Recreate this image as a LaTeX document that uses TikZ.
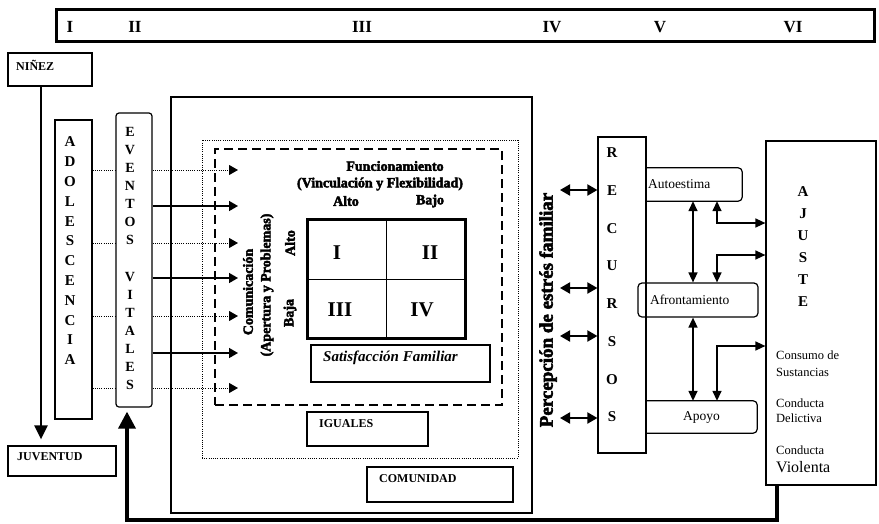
\documentclass[tikz,border=0pt]{standalone}
\usepackage{fontspec}
\setmainfont{Liberation Serif}
\newfontface\heavy[FakeBold=3]{Liberation Serif Bold}
\usetikzlibrary{arrows.meta,positioning,calc}

\begin{document}
\begin{tikzpicture}[x=1pt, y=-1pt,
    box/.style={draw, line width=1.2pt, inner sep=0pt},
    tag/.style={anchor=west, inner sep=0pt, font=\fontsize{12}{12}\selectfont\bfseries},
    numeral/.style={inner sep=0pt, font=\fontsize{17}{17}\selectfont\bfseries},
    letter/.style={inner sep=0pt, font=\fontsize{15}{15}\selectfont\bfseries},
    cell/.style={inner sep=0pt, font=\fontsize{21}{21}\selectfont\bfseries},
    squat/.style={inner sep=0pt, font=\heavy\fontsize{14}{14}\selectfont},
    part/.style={inner sep=0pt, font=\fontsize{13.5}{13.5}\selectfont},
    outcome/.style={anchor=west, inner sep=0pt, font=\fontsize{12.5}{12.5}\selectfont},
    event/.style={-{Triangle[length=9pt, width=10pt]}, line width=1.5pt},
    hint/.style={line width=1pt, dash pattern=on 1pt off 1.2pt},
    hintarrow/.style={hint, -{Triangle[length=9pt, width=10pt]}},
    stress/.style={{Triangle[length=10pt, width=11pt]}-{Triangle[length=10pt, width=11pt]}, line width=2pt},
    twoway/.style={{Triangle[length=10pt, width=9pt]}-{Triangle[length=10pt, width=9pt]}, line width=1.5pt},
    soft/.style={line width=1.2pt, rounded corners=4pt},
  ]
\useasboundingbox (0,0) rectangle (879,523);

% --- Stages bar ---------------------------------------------------------------
\node[draw, line width=3pt, minimum width=818, minimum height=32, inner sep=0pt] (stages) at (465.5,25.5) {};
\foreach \num/\x in {I/70, II/135, III/362, IV/552, V/660, VI/793}
  \node[numeral] (st\num) at (\x,27) {\num};

% --- From childhood to youth --------------------------------------------------
\node[box, minimum width=84, minimum height=33] (ninez) at (50,69.5) {};
\node[tag] (ninezlbl) at (16,65) {NIÑEZ};
\node[box, minimum width=108, minimum height=30] (juventud) at (62,461) {};
\node[tag] (juventudlbl) at (17,457) {JUVENTUD};
\coordinate (lifeline) at (41,0);
\draw[line width=2.5pt, -{Triangle[length=14pt, width=13pt]}, shorten >=6pt] (ninez.south -| lifeline) -- (juventud.north -| lifeline);

\node[box, minimum width=37, minimum height=299] (adol) at (73.5,269.5) {};
\foreach \l [count=\i] in {A,D,O,L,E,S,C,E,N,C,I,A}
  \node[letter] at (70,{142+19.8*(\i-1)}) {\l};

\node[box, rounded corners=3pt, minimum width=36, minimum height=294] (eventos) at (134,260) {};
\foreach \l [count=\i] in {E,V,E,N,T,O,S,,V,I,T,A,L,E,S}
  \node[letter, font=\fontsize{14}{14}\selectfont\bfseries] at (130,{132+18.07*(\i-1)}) {\l};

% --- Contexts: community, peers, family ---------------------------------------
\node[box, minimum width=361, minimum height=416] (comunidad) at (351.5,305) {};
\node[draw, line width=1pt, dash pattern=on 1pt off 1.2pt, minimum width=316, minimum height=318, inner sep=0pt] (iguales) at (360,299) {};
\node[draw, line width=2.5pt, dash pattern=on 9pt off 5pt, minimum width=287, minimum height=256, inner sep=0pt] (familia) at (358.5,277) {};

\node[box, minimum width=121, minimum height=34] (igualesbox) at (367.5,429) {};
\node[tag] (igualeslbl) at (319,424) {IGUALES};
\node[box, minimum width=146, minimum height=35] (comunbox) at (440,484.5) {};
\node[tag] (comunlbl) at (379,479) {COMUNIDAD};

\node[box, minimum width=179, minimum height=37] (satisf) at (400.5,363.5) {};
\node[anchor=west, inner sep=0pt, font=\fontsize{15}{15}\selectfont\bfseries\itshape] (satisflbl) at (323,358) {Satisfacción Familiar};

% --- Family typology grid -----------------------------------------------------
\node[draw, line width=3pt, minimum width=158, minimum height=119, inner sep=0pt] (grid) at (386.5,279) {};
\draw[line width=1pt] (grid.north) -- (grid.south);
\draw[line width=1pt] (grid.west) -- (grid.east);
\foreach \q/\x/\y in {I/337/253, II/430/253, III/340/310, IV/422/310}
  \node[cell] (q\q) at (\x,\y) {\q};

\node[squat] (func) at (395,166) {Funcionamiento};
\node[squat] (vinc) at (380,184) {(Vinculación y Flexibilidad)};
\node[squat] (fAlto) at (346,201) {Alto};
\node[squat] (fBajo) at (430,201) {Bajo};
\node[squat, rotate=90] (comu) at (248,292) {Comunicación};
\node[squat, rotate=90] (apert) at (267,285) {(Apertura y Problemas)};
\node[squat, rotate=90] (cAlto) at (290,243) {Alto};
\node[squat, rotate=90] (cBaja) at (290,313) {Baja};

% --- Life events into the family ----------------------------------------------
\foreach \y in {170,243,316,388} {
  \coordinate (h\y) at (238,\y);
  \draw[hint] (adol.east |- h\y) -- (eventos.west |- h\y);
  \draw[hintarrow] (eventos.east |- h\y) -- (h\y);
}
\foreach \y in {206,278,353} {
  \coordinate (s\y) at (238,\y);
  \draw[event] (eventos.east |- s\y) -- (s\y);
}

% --- Perceived stress and resources -------------------------------------------
\node[inner sep=0pt, rotate=90, font=\heavy\fontsize{19}{19}\selectfont] (estres) at (548,310) {Percepción de estrés familiar};

\node[box, minimum width=48, minimum height=316] (recursos) at (622,295) {};
\foreach \l [count=\i] in {R,E,C,U,R,S,O,S}
  \node[letter] at (612,{153+37.7*(\i-1)}) {\l};
\foreach \y in {190,288,336,418} {
  \coordinate (e\y) at (560,\y);
  \draw[stress] (e\y) -- (recursos.west |- e\y);
}

\node[part, minimum width=96, minimum height=33, text width=92, align=left] (autoest) at (694,184.5) {Autoestima};
\draw[soft] (autoest.north west) -- (autoest.north east) -- (autoest.south east) -- (autoest.south west);
\node[part, draw, soft, minimum width=120, minimum height=34, text width=96, align=left] (afront) at (698,300) {Afrontamiento};
\node[part, minimum width=111, minimum height=32] (apoyo) at (701.5,417) {Apoyo};
\draw[soft] (apoyo.north west) -- (apoyo.north east) -- (apoyo.south east) -- (apoyo.south west);

% --- Adjustment ---------------------------------------------------------------
\node[box, minimum width=110, minimum height=344] (ajuste) at (821,313) {};
\foreach \l [count=\i] in {A,J,U,S,T,E}
  \node[letter] at (803,{192+22*(\i-1)}) {\l};
\foreach \t/\y in {Consumo de/355, Sustancias/372, Conducta/403, Delictiva/418, Conducta/450}
  \node[outcome] at (776,\y) {\t};
\node[outcome, font=\fontsize{16}{16}\selectfont] (violenta) at (776,467) {Violenta};

\coordinate (vA) at (693,0);
\coordinate (vB) at (717,0);
\coordinate (hA) at (0,223);
\coordinate (hB) at (0,255);
\coordinate (hC) at (0,346);
\draw[twoway] (autoest.south -| vA) -- (afront.north -| vA);
\draw[twoway] (afront.south -| vA) -- (apoyo.north -| vA);
\draw[twoway] (autoest.south -| vB) |- (ajuste.west |- hA);
\draw[twoway] (ajuste.west |- hB) -| (afront.north -| vB);
\draw[twoway] (apoyo.north -| vB) |- (ajuste.west |- hC);

% --- Feedback to life events --------------------------------------------------
\coordinate (fbk) at (777,520);
\draw[line width=3.5pt, -{Triangle[length=17pt, width=17pt]}, shorten >=4pt] (ajuste.south -| fbk) -- (fbk) -| ([xshift=-7pt]eventos.south);
\end{tikzpicture}
\end{document}
